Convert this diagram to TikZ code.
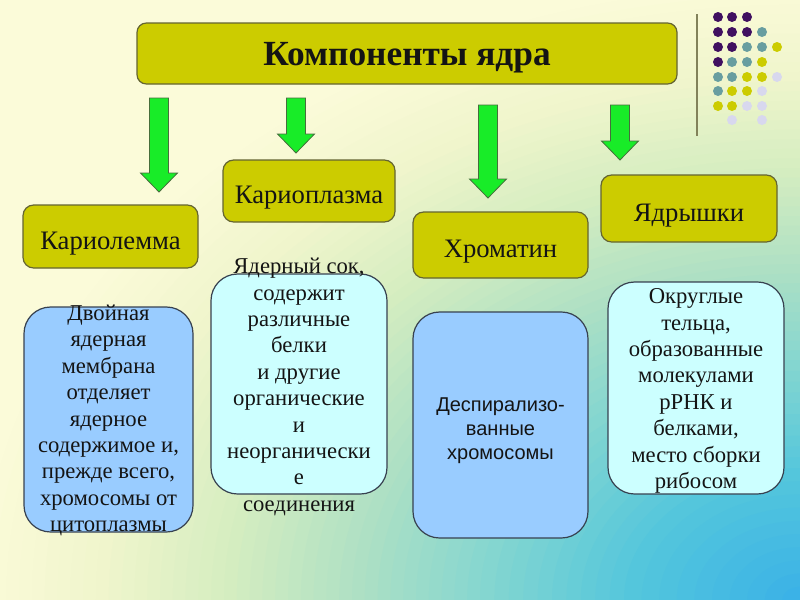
\documentclass[tikz,border=0pt]{standalone}
\usepackage{fontspec}
\setmainfont{Liberation Serif}
\newfontfamily\arialf{Liberation Sans}
\usetikzlibrary{calc}
\definecolor{bgA}{RGB}{56,176,232}
\definecolor{bgB}{RGB}{84,198,220}
\definecolor{bgC}{RGB}{132,214,208}
\definecolor{bgD}{RGB}{174,224,196}
\definecolor{bgE}{RGB}{212,237,192}
\definecolor{bgF}{RGB}{240,245,204}
\definecolor{bgG}{RGB}{251,251,217}
\definecolor{olivefill}{RGB}{204,204,0}
\definecolor{oliveline}{RGB}{100,100,50}
\definecolor{bluefill}{RGB}{153,204,255}
\definecolor{cyanfill}{RGB}{204,255,255}
\definecolor{boxline}{RGB}{55,65,80}
\definecolor{arrowgreen}{RGB}{24,236,40}
\definecolor{arrowline}{RGB}{70,110,60}
\definecolor{dotpurple}{RGB}{64,16,96}
\definecolor{dotteal}{RGB}{104,158,160}
\definecolor{dotyellow}{RGB}{204,204,0}
\definecolor{dotlav}{RGB}{216,216,238}
\definecolor{vline}{RGB}{130,130,90}
\definecolor{txt}{RGB}{20,20,20}
\tikzset{
  titlebox/.style={draw=oliveline, fill=olivefill, line width=0.9pt, rounded corners=7pt,
    minimum width=540*0.75pt, minimum height=61*0.75pt, inner sep=0pt,
    text height=18pt, text depth=0pt,
    font=\fontsize{26.5}{30}\selectfont\bfseries, text=txt},
  catbox/.style={draw=oliveline, fill=olivefill, line width=0.9pt, rounded corners=8pt,
    inner sep=0pt, text height=19pt, text depth=0pt, font=\fontsize{20}{24}\selectfont, text=txt},
  descbox/.style={draw=boxline, line width=0.9pt, rounded corners=20pt, inner sep=0pt},
  desctext/.style={align=center, inner sep=0pt, font=\fontsize{17}{19.8}\selectfont, text=txt},
  arrowstyle/.style={fill=arrowgreen, draw=arrowline, line width=0.6pt, line join=miter},
  dot/.style={radius=5}
}
\newcommand\blkarrow[2]{%
  \filldraw[arrowstyle] ($(#1)+(-9.5,0)$) -- ($(#2)+(-9.5,-19)$) -- ($(#2)+(-18.5,-19)$) -- (#2)
    -- ($(#2)+(18.5,-19)$) -- ($(#2)+(9.5,-19)$) -- ($(#1)+(9.5,0)$) -- cycle;}
\begin{document}
\begin{tikzpicture}[x=0.75pt, y=-0.75pt]
\useasboundingbox (0,0) rectangle (800,600);
% background: radial gradient from bottom-right corner
\begin{scope}
  \clip (0,0) rectangle (800,600);
  \fill[bgG] (0,0) rectangle (800,600);
  \foreach \ta/\ca/\tb/\cb in {0.88/bgF/1.04/bgG, 0.72/bgE/0.88/bgF, 0.56/bgD/0.72/bgE,
      0.4/bgC/0.56/bgD, 0.22/bgB/0.4/bgC, 0/bgA/0.22/bgB} {
    \foreach \k in {10,9,...,1} {
      \pgfmathsetmacro\myT{\ta+(\tb-\ta)*\k/10}
      \pgfmathsetmacro\myP{100-\k*10}
      \fill[\ca!\myP!\cb] (800,600) ellipse[x radius=\myT*800, y radius=\myT*600];
    }
  }
\end{scope}

% decorative line and dots
\draw[vline, line width=1.6pt] (697,14) -- (697,136);
\foreach \x/\y/\c in {718/17/dotpurple, 732/17/dotpurple, 747/17/dotpurple,
  718/32/dotpurple, 732/32/dotpurple, 747/32/dotpurple, 762/32/dotteal,
  718/47/dotpurple, 732/47/dotpurple, 747/47/dotteal, 762/47/dotteal, 777/47/dotyellow,
  718/62/dotpurple, 732/62/dotteal, 747/62/dotteal, 762/62/dotyellow,
  718/77/dotteal, 732/77/dotteal, 747/77/dotyellow, 762/77/dotyellow, 777/77/dotlav,
  718/91/dotteal, 732/91/dotyellow, 747/91/dotyellow, 762/91/dotlav,
  718/106/dotyellow, 732/106/dotyellow, 747/106/dotlav, 762/106/dotlav,
  732/120/dotlav, 762/120/dotlav}
  \fill[\c] (\x,\y) circle[dot];

% title
\node[titlebox] (t) at (407,53.5) {Компоненты ядра};

% categories
\node[catbox, minimum width=175*0.75pt, minimum height=63*0.75pt] (c1) at (110.5,236.5) {Кариолемма};
\node[catbox, minimum width=172*0.75pt, minimum height=62*0.75pt] (c2) at (309,191) {Кариоплазма};
\node[catbox, minimum width=175*0.75pt, minimum height=66*0.75pt] (c3) at (500.5,245) {Хроматин};
\node[catbox, minimum width=176*0.75pt, minimum height=67*0.75pt] (c4) at (689,208.5) {Ядрышки};

% arrows
\coordinate (a1s) at (159,98);  \coordinate (a1e) at (159,192);
\coordinate (a2s) at (296,98);  \coordinate (a2e) at (296,153);
\coordinate (a3s) at (488,105); \coordinate (a3e) at (488,198);
\coordinate (a4s) at (620,105); \coordinate (a4e) at (620,160);
\blkarrow{a1s}{a1e}
\blkarrow{a2s}{a2e}
\blkarrow{a3s}{a3e}
\blkarrow{a4s}{a4e}

% description boxes
\node[descbox, fill=bluefill, minimum width=169*0.75pt, minimum height=225*0.75pt] (d1) at (108.5,419.5) {};
\node[descbox, fill=cyanfill, minimum width=176*0.75pt, minimum height=220*0.75pt] (d2) at (299,384) {};
\node[descbox, fill=bluefill, minimum width=175*0.75pt, minimum height=226*0.75pt] (d3) at (500.5,425) {};
\node[descbox, fill=cyanfill, minimum width=176*0.75pt, minimum height=212*0.75pt] (d4) at (696,388) {};

\node[desctext] (d1t) at (108.5,420.5) {Двойная\\ядерная\\мембрана\\отделяет\\ядерное\\содержимое и,\\прежде всего,\\хромосомы от\\цитоплазмы};
\node[desctext] (d2t) at (299,387) {Ядерный сок,\\содержит\\различные\\белки\\и другие\\органические\\и\\неорганически\\е\\соединения};
\node[desctext, font=\arialf\fontsize{15}{18}\selectfont] (d3t) at (500.5,431) {Деспирализо-\\ванные\\хромосомы};
\node[desctext] (d4t) at (696,391) {Округлые\\тельца,\\образованные\\молекулами\\рРНК и\\белками,\\место сборки\\рибосом};
\end{tikzpicture}
\end{document}
